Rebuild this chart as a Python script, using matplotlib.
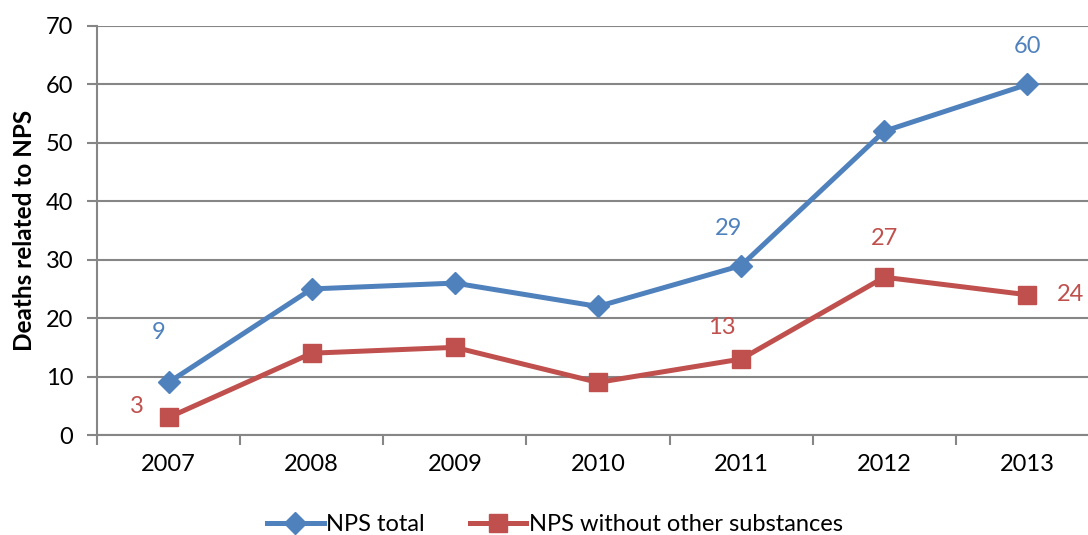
import numpy as np
import matplotlib.pyplot as plt

years = ["2007", "2008", "2009", "2010", "2011", "2012", "2013"]
nps_total = [9, 25, 26, 22, 29, 52, 60]
nps_alone = [3, 14, 15, 9, 13, 27, 24]

# which points carry a value label, and where it sits (offset in points)
total_labels = {0: (-7, 36), 4: (-9, 27), 6: (0, 27)}
alone_labels = {0: (-23, 8), 4: (-14, 23), 5: (0, 28), 6: (31, 0)}

BLUE = "#4F81BD"
RED = "#C0504D"
GRID = "#868686"

plt.rcParams["font.family"] = ["Lato", "DejaVu Sans"]

fig = plt.figure(figsize=(10.88, 5.35), dpi=100)
ax = fig.add_axes([97 / 1088, 1 - 435 / 535, 1002 / 1088, 409 / 535])

x = np.arange(len(years))
ax.plot(x, nps_total, color=BLUE, lw=3.6, marker="D", ms=11,
        label="NPS total", solid_joinstyle="round")
ax.plot(x, nps_alone, color=RED, lw=3.6, marker="s", ms=13,
        label="NPS without other substances", solid_joinstyle="round")

for i, off in total_labels.items():
    ax.annotate(str(nps_total[i]), (x[i], nps_total[i]), xytext=off,
                textcoords="offset points", ha="center", va="center",
                color=BLUE, fontsize=17)
for i, off in alone_labels.items():
    ax.annotate(str(nps_alone[i]), (x[i], nps_alone[i]), xytext=off,
                textcoords="offset points", ha="center", va="center",
                color=RED, fontsize=17)

ax.set_xlim(-0.5, len(years) - 0.5)
ax.set_ylim(0, 70)
ax.set_yticks(range(0, 71, 10))
ax.set_xticks(np.arange(len(years) + 1) - 0.5, minor=False)
ax.set_xticklabels([])
ax.set_xticks(x, minor=True)
ax.set_xticklabels(years, minor=True)
ax.tick_params(axis="x", which="major", length=7, width=1.5, color=GRID)
ax.tick_params(axis="x", which="minor", length=0, pad=14, labelsize=17)
ax.tick_params(axis="y", length=7, width=1.5, color=GRID, labelsize=17, pad=10)

ax.yaxis.grid(True, color=GRID, lw=1.5)
ax.set_axisbelow(True)
for side in ["top", "right"]:
    ax.spines[side].set_visible(False)
for side in ["left", "bottom"]:
    ax.spines[side].set_color(GRID)
    ax.spines[side].set_linewidth(1.5)

ax.set_ylabel("Deaths related to NPS", fontsize=17.5, fontweight="bold", labelpad=7)

fig.legend(loc="lower center", bbox_to_anchor=(0.51, -0.04), ncol=2,
           frameon=False, fontsize=17, handlelength=2.4, columnspacing=1.9,
           handletextpad=0.1)

fig.savefig("out.png", dpi=100)
